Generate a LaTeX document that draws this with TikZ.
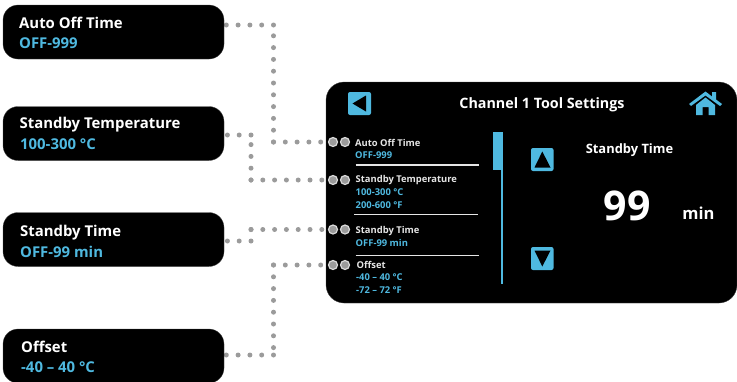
\documentclass[tikz,border=0pt]{standalone}
\usepackage{fontspec}
\setmainfont{Open Sans}
\definecolor{tealblue}{HTML}{4FB9E0}
\definecolor{dotgray}{HTML}{9B9B9B}
\pgfdeclarelayer{under}
\pgfsetlayers{under,main}
\tikzset{
  callout/.style={fill=black,draw=black!70,line width=0.3pt,rounded corners=15pt,minimum width=221pt,minimum height=54pt,inner sep=0pt},
  bigtitle/.style={anchor=west,inner sep=0pt,text=white,font=\fontsize{14.9}{15}\selectfont\bfseries},
  bigvalue/.style={anchor=west,inner sep=0pt,text=tealblue,font=\fontsize{14.9}{15}\selectfont\bfseries},
  smalltitle/.style={anchor=west,inner sep=0pt,text=white!90!black,font=\fontsize{9.4}{10}\selectfont\bfseries},
  smallvalue/.style={anchor=west,inner sep=0pt,text=tealblue,font=\fontsize{9.4}{10}\selectfont\bfseries},
  dotline/.style={draw=dotgray,line width=5pt,line cap=round,dash pattern=on 0pt off 11.8pt},
  port/.style={circle,fill=dotgray,draw=white!85!black,line width=1.2pt,minimum size=9pt,inner sep=0pt},
  rule/.style={draw=white!90!black,line width=1.6pt},
  iconbtn/.style={fill=tealblue,rounded corners=2pt}
}
\begin{document}
\begin{tikzpicture}[x=1pt,y=-1pt]
\useasboundingbox (0,0) rectangle (737,381);

%draw screen panel
\node[fill=black,draw=black!70,line width=0.3pt,rounded corners=18pt,minimum width=411pt,minimum height=221pt,inner sep=0pt] (panel) at (531.5,192.5) {};

%draw ports on the panel
\foreach \name/\y in {auto/142,temp/180,time/229.5,off/265}{
  \node[port] (\name port) at (333,\y) {};
  \node[port] (\name portb) at (345,\y) {};
}

%draw bends of the dotted lines
\coordinate (autobend) at (273.5,142);
\coordinate (autotop) at (273.5,25);
\coordinate (tempbend) at (251,180);
\coordinate (temptop) at (251,135);
\coordinate (timebend) at (251,229.5);
\coordinate (timelow) at (251,241);
\coordinate (offbend) at (273.5,265);
\coordinate (offlow) at (273.5,355);

%draw callouts
\node[callout] (autobox) at (113.5,32) {};
\node[callout] (tempbox) at (113.5,133.5) {};
\node[callout] (timebox) at (113.5,239.5) {};
\node[callout] (offbox) at (113.5,356) {};

%draw dotted connectors
\begin{pgfonlayer}{under}
\foreach \name/\tip/\shift in {auto/top/7,temp/top/-1.5,time/low/-1.5,off/low/1}{
  \draw[dotline] (\name bend) -- (\name port);
  \draw[dotline] (\name bend) -- (\name\tip);
  \draw[dotline] (\name\tip) -- ([yshift=\shift pt]\name box.east);
}
\end{pgfonlayer}

%callout texts
\node[bigtitle] (autoname) at (19,23) {Auto Off Time};
\node[bigvalue] (autorange) at (19,43.5) {OFF-999};
\node[bigtitle] (tempname) at (19.5,125) {Standby Temperature};
\node[bigvalue] (temprange) at (20,144) {100-300 °C};
\node[bigtitle] (timename) at (20,232.5) {Standby Time};
\node[bigvalue] (timerange) at (20,251.5) {OFF-99 min};
\node[bigtitle] (offname) at (21,346.5) {Offset};
\node[bigvalue] (offrange) at (21,367) {-40 – 40 °C};

%list texts on the panel
\node[smalltitle] (autoitem) at (355,142.5) {Auto Off Time};
\node[smallvalue] at (355,155) {OFF-999};
\node[smalltitle] (tempitem) at (355.5,180.5) {Standby Temperature};
\node[smallvalue] at (355.5,192) {100-300 °C};
\node[smallvalue] at (355.5,205) {200-600 °F};
\node[smalltitle] (timeitem) at (355.5,231.5) {Standby Time};
\node[smallvalue] at (355.5,243) {OFF-99 min};
\node[smalltitle] (offitem) at (356.5,265) {Offset};
\node[smallvalue] at (356,277.5) {-40 – 40 °C};
\node[smallvalue] at (356,290) {-72 – 72 °F};

%draw separators
\draw[rule] (355.5,165) -- (478.5,165);
\draw[rule] (354,214.5) -- (477.5,214.5);
\draw[rule] (355.5,255.5) -- (478.5,255.5);

%draw scroll bar
\fill[tealblue] (493,132) rectangle (503,169.5);
\fill[tealblue] (500.5,169) rectangle (502.5,283.5);

%draw back button
\fill[iconbtn] (348,92) rectangle (371,115);
\fill[black] (366,95.5) -- (366,111.5) -- (352.5,103.5) -- cycle;

%draw arrow buttons
\fill[iconbtn] (531,148) rectangle (553.5,171);
\fill[black] (542.3,151.5) -- (550.5,167.5) -- (534.5,167.5) -- cycle;
\fill[iconbtn] (531,247) rectangle (553.5,270);
\fill[black] (534.5,250.5) -- (550.5,250.5) -- (542.3,266.5) -- cycle;

%draw home icon
\fill[tealblue] (696,105) -- (705.5,97.5) -- (715,105) -- (715,115) -- (708.5,115) -- (708.5,107) -- (702.5,107) -- (702.5,115) -- (696,115) -- cycle;
\fill[tealblue] (689,104) -- (705.5,91.5) -- (712,96.5) -- (712,92) -- (716,92) -- (716,99.5) -- (722,104) -- (720,106) -- (705.5,95.5) -- (691,106) -- cycle;

%panel heading and value
\node[text=white,inner sep=0pt,font=\fontsize{14.3}{15}\selectfont\bfseries] (heading) at (542,104.5) {Channel 1 Tool Settings};
\node[text=white,inner sep=0pt,font=\fontsize{12.9}{13}\selectfont\bfseries] (valuename) at (629.5,150) {Standby Time};
\node[text=white,inner sep=0pt,font=\fontsize{41}{42}\selectfont\bfseries] (value) at (627,206) {99};
\node[text=white,inner sep=0pt,font=\fontsize{16.5}{17}\selectfont\bfseries] (unit) at (698.5,213) {min};
\end{tikzpicture}
\end{document}
